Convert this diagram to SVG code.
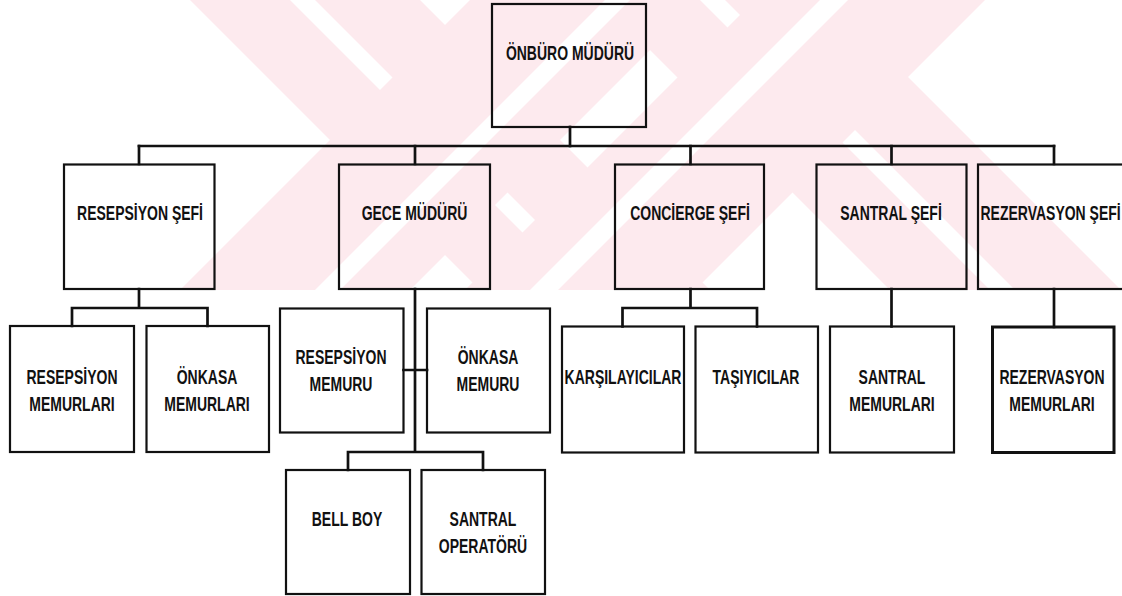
<svg xmlns="http://www.w3.org/2000/svg" width="1122" height="596" viewBox="0 0 1122 596">
  <defs>
    <style>
      .box{fill:none;stroke:#111;stroke-width:2.2}
      .box.heavy{stroke-width:3}
      .wire{fill:none;stroke:#111;stroke-width:2.7;stroke-linecap:square}
      .lbl{font-family:"Liberation Sans",Arial,Helvetica,sans-serif;font-weight:bold;font-size:20px;fill:#111;text-anchor:middle}
      .lbl.start{text-anchor:start}
      .wm{fill:#fdeaee}
      .wm-gap{fill:#ffffff}
    </style>
    <clipPath id="wmClip"><rect x="0" y="0" width="1122" height="290"/></clipPath>
  </defs>

  <rect x="0" y="0" width="1122" height="596" fill="#ffffff"/>

  <!-- light diagonal background mark behind the upper rows -->
  <g id="watermark" clip-path="url(#wmClip)">
    <polygon class="wm" points="190,0 420,0 710,290 480,290"/>
    <polygon class="wm-gap" points="290,0 315,0 605,290 580,290"/>
    <polygon class="wm" points="600,0 831,0 1121,290 890,290"/>
    <polygon class="wm-gap" points="700,0 725,0 1015,290 990,290"/>
    <polygon class="wm" points="470,0 700,0 410,290 180,290"/>
    <polygon class="wm-gap" points="605,0 630,0 340,290 315,290"/>
    <polygon class="wm" points="755,0 985,0 695,290 465,290"/>
    <polygon class="wm-gap" points="820,0 848,0 558,290 530,290"/>
  </g>

  <g id="connectors">
    <path class="wire" d="M570 127 V146"/>
    <path class="wire" d="M139 146 H1054"/>
    <path class="wire" d="M139 146 V164 M415 146 V164 M690.5 146 V164 M891.5 146 V164 M1054 146 V164"/>
    <!-- Resepsiyon Şefi branch -->
    <path class="wire" d="M139 289 V308 M72 308 H207.5 M72 308 V326 M207.5 308 V326"/>
    <!-- Gece Müdürü branch -->
    <path class="wire" d="M415 289 V452 M403.5 370 H427 M348 452 H483 M348 452 V470 M483 452 V470"/>
    <!-- Concierge Şefi branch -->
    <path class="wire" d="M690.5 289 V308 M622.5 308 H757 M622.5 308 V326.5 M757 308 V326.5"/>
    <!-- Santral / Rezervasyon branches -->
    <path class="wire" d="M891.5 289 V326.5 M1054 289 V327"/>
  </g>

  <g id="onburo-muduru">
    <rect class="box" x="492" y="4" width="154" height="123"/>
    <text class="lbl" transform="translate(570 60) scale(.7 1)">ÖNBÜRO MÜDÜRÜ</text>
  </g>

  <g id="resepsiyon-sefi">
    <rect class="box" x="64" y="164.5" width="150.5" height="124.5"/>
    <text class="lbl" transform="translate(140 220) scale(.7 1)">RESEPSİYON ŞEFİ</text>
  </g>
  <g id="gece-muduru">
    <rect class="box" x="339" y="164.5" width="151" height="124.5"/>
    <text class="lbl" transform="translate(414.5 220) scale(.7 1)">GECE MÜDÜRÜ</text>
  </g>
  <g id="concierge-sefi">
    <rect class="box" x="615" y="164.5" width="149" height="124.5"/>
    <text class="lbl" transform="translate(690 220) scale(.7 1)">CONCİERGE ŞEFİ</text>
  </g>
  <g id="santral-sefi">
    <rect class="box" x="816.5" y="164.5" width="150" height="124.5"/>
    <text class="lbl" transform="translate(891 220) scale(.7 1)">SANTRAL ŞEFİ</text>
  </g>
  <g id="rezervasyon-sefi">
    <rect class="box" x="978" y="164.5" width="150" height="124.5"/>
    <text class="lbl start" transform="translate(980.5 220) scale(.7 1)">REZERVASYON ŞEFİ</text>
  </g>

  <g id="resepsiyon-memurlari">
    <rect class="box" x="10" y="326" width="124" height="126"/>
    <text class="lbl" transform="translate(72 384) scale(.7 1)">RESEPSİYON</text>
    <text class="lbl" transform="translate(72 411) scale(.7 1)">MEMURLARI</text>
  </g>
  <g id="onkasa-memurlari">
    <rect class="box" x="146.5" y="326" width="122.5" height="126"/>
    <text class="lbl" transform="translate(207 384) scale(.7 1)">ÖNKASA</text>
    <text class="lbl" transform="translate(207 411) scale(.7 1)">MEMURLARI</text>
  </g>

  <g id="resepsiyon-memuru">
    <rect class="box" x="280" y="308.5" width="123.5" height="124"/>
    <text class="lbl" transform="translate(341 364) scale(.7 1)">RESEPSİYON</text>
    <text class="lbl" transform="translate(341 391) scale(.7 1)">MEMURU</text>
  </g>
  <g id="onkasa-memuru">
    <rect class="box" x="427" y="308.5" width="123" height="124"/>
    <text class="lbl" transform="translate(488 364) scale(.7 1)">ÖNKASA</text>
    <text class="lbl" transform="translate(488 391) scale(.7 1)">MEMURU</text>
  </g>
  <g id="bell-boy">
    <rect class="box" x="286" y="470" width="124" height="124"/>
    <text class="lbl" transform="translate(347 526) scale(.7 1)">BELL BOY</text>
  </g>
  <g id="santral-operatoru">
    <rect class="box" x="421.5" y="470" width="123.5" height="124"/>
    <text class="lbl" transform="translate(483 526) scale(.7 1)">SANTRAL</text>
    <text class="lbl" transform="translate(483 553) scale(.7 1)">OPERATÖRÜ</text>
  </g>

  <g id="karsilayicilar">
    <rect class="box" x="562" y="326.5" width="122" height="126"/>
    <text class="lbl" transform="translate(623 384) scale(.7 1)">KARŞILAYICILAR</text>
  </g>
  <g id="tasiyicilar">
    <rect class="box" x="695.5" y="326.5" width="122.5" height="126"/>
    <text class="lbl" transform="translate(756 384) scale(.7 1)">TAŞIYICILAR</text>
  </g>
  <g id="santral-memurlari">
    <rect class="box" x="830" y="326.5" width="124" height="126"/>
    <text class="lbl" transform="translate(892 384) scale(.7 1)">SANTRAL</text>
    <text class="lbl" transform="translate(892 411) scale(.7 1)">MEMURLARI</text>
  </g>
  <g id="rezervasyon-memurlari">
    <rect class="box heavy" x="992.5" y="327" width="121.5" height="125.5"/>
    <text class="lbl" transform="translate(1052 384) scale(.7 1)">REZERVASYON</text>
    <text class="lbl" transform="translate(1052 411) scale(.7 1)">MEMURLARI</text>
  </g>
</svg>
